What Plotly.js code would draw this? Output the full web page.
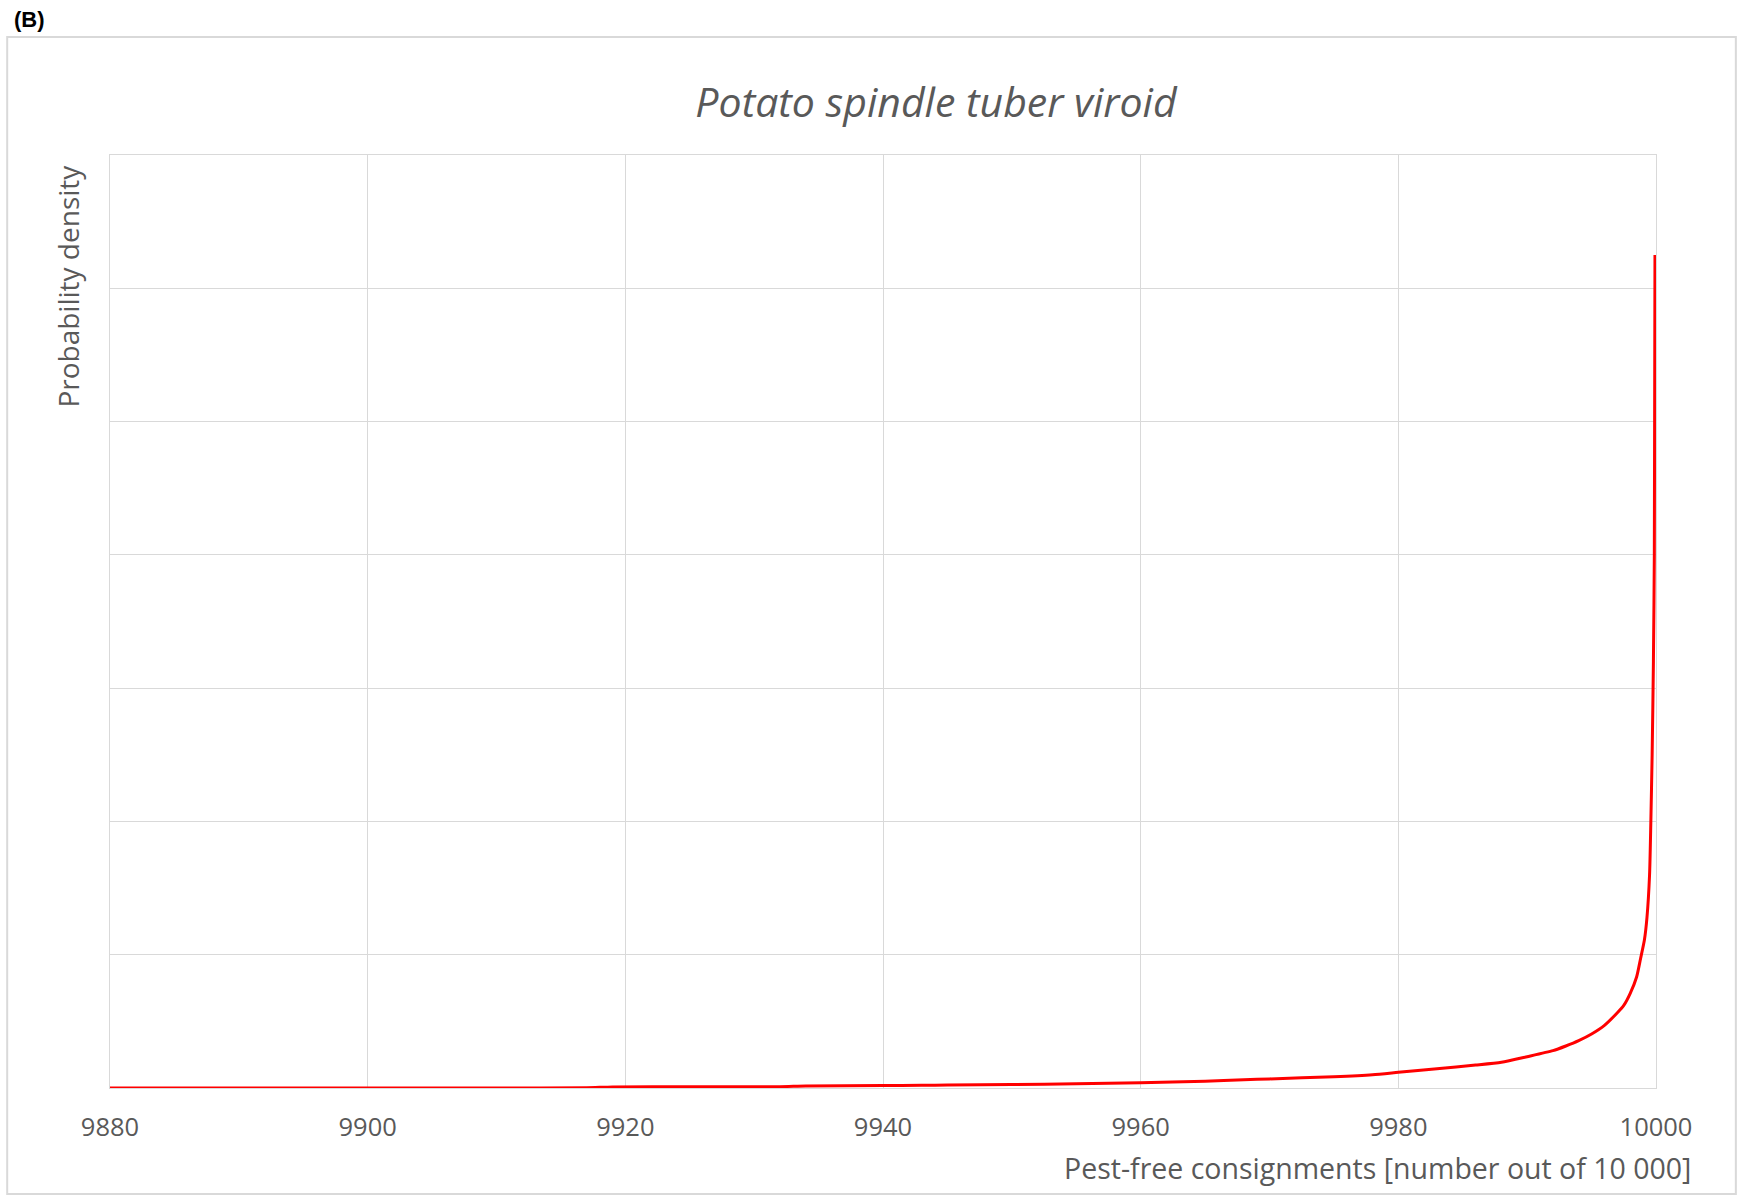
<!DOCTYPE html>
<html>
<head>
<meta charset="utf-8">
<script src="https://cdn.plot.ly/plotly-3.0.1.min.js"></script>
<style>
  html, body { margin: 0; padding: 0; background: #fff; }
  #chart { width: 1740px; height: 1195px; }
</style>
</head>
<body>
<div id="chart"></div>
<script>
// Data
const consignments = [9880, 9890, 9900, 9910, 9917, 9919, 9925, 9932, 9934, 9940, 9943, 9945, 9950, 9955, 9960,
  9965, 9968, 9970, 9975, 9978, 9980, 9983, 9986, 9988, 9990, 9992, 9993, 9994, 9995, 9996, 9997, 9997.5,
  9998, 9998.5, 9998.8, 9999.1, 9999.3, 9999.5, 9999.6, 9999.7, 9999.8, 9999.87, 9999.92];
const density = [0, 0, 0, 0, 0.002, 0.008, 0.009, 0.01, 0.015, 0.018, 0.02, 0.022, 0.026, 0.032, 0.04,
  0.05, 0.062, 0.068, 0.085, 0.1, 0.118, 0.145, 0.172, 0.193, 0.235, 0.28, 0.315, 0.355, 0.405, 0.47, 0.565, 0.62,
  0.71, 0.835, 0.97, 1.11, 1.28, 1.6, 2.0, 2.5, 3.2, 4.0, 6.25];
const xTicks = [9880, 9900, 9920, 9940, 9960, 9980, 10000];
const chartTitle = "Potato spindle tuber viroid";
const xTitle = "Pest-free consignments [number out of 10 000]";
const yTitle = "Probability density";
const panelLabel = "(B)";

const grey = "#595959";
const grid = "#d9d9d9";
const font = "Open Sans, Noto Sans, sans-serif";

const trace = {
  x: consignments,
  y: density,
  type: "scatter",
  mode: "lines",
  line: { color: "#ff0000", width: 3, shape: "spline", smoothing: 0.6 },
  hoverinfo: "skip",
  showlegend: false
};

const layout = {
  width: 1740,
  height: 1195,
  paper_bgcolor: "#ffffff",
  plot_bgcolor: "#ffffff",
  margin: { l: 110, r: 84, t: 155, b: 107, pad: 0 },
  title: {
    text: chartTitle,
    font: { family: font, size: 41, color: grey, style: "italic" },
    x: 936 / 1740, xref: "container", xanchor: "center",
    y: 1 - 103 / 1195, yref: "container", yanchor: "middle"
  },
  xaxis: {
    range: [9880, 10000],
    tickvals: xTicks,
    ticktext: xTicks.map(String),
    showgrid: true,
    gridcolor: grid,
    gridwidth: 1,
    zeroline: false,
    showline: true,
    mirror: true,
    linecolor: grid,
    linewidth: 1,
    ticks: "",
    ticklabelstandoff: 16,
    tickfont: { family: font, size: 25.5, color: grey },
    fixedrange: true
  },
  yaxis: {
    range: [0, 7],
    dtick: 1,
    tick0: 0,
    showticklabels: false,
    showgrid: true,
    gridcolor: grid,
    gridwidth: 1,
    zeroline: false,
    showline: true,
    mirror: true,
    linecolor: grid,
    linewidth: 1,
    ticks: "",
    fixedrange: true
  },
  shapes: [{
    type: "rect", xref: "paper", yref: "paper",
    x0: (7 - 110) / 1549, x1: (1739 - 110) / 1549,
    y0: (1088 - 1194) / 933, y1: (1088 - 37) / 933,
    line: { color: grid, width: 2 }, fillcolor: "rgba(0,0,0,0)", layer: "below"
  }],
  annotations: [
    {
      text: panelLabel, xref: "paper", yref: "paper",
      x: (12 - 110) / 1549, xanchor: "left",
      y: (1088 - 19) / 933, yanchor: "middle",
      showarrow: false,
      font: { family: "Liberation Sans, Arial, sans-serif", size: 22, color: "#000", weight: "bold" }
    },
    {
      text: xTitle, xref: "paper", yref: "paper",
      x: (1696 - 110) / 1549, xanchor: "right",
      y: (1088 - 1168) / 933, yanchor: "middle",
      showarrow: false,
      font: { family: font, size: 28.5, color: grey }
    },
    {
      text: yTitle, xref: "paper", yref: "paper",
      x: (68 - 110) / 1549, xanchor: "center",
      y: (1088 - 163) / 933, yanchor: "top",
      textangle: -90,
      showarrow: false,
      font: { family: font, size: 28, color: grey }
    }
  ]
};

Plotly.newPlot("chart", [trace], layout, { displayModeBar: false, staticPlot: true });
</script>
</body>
</html>
